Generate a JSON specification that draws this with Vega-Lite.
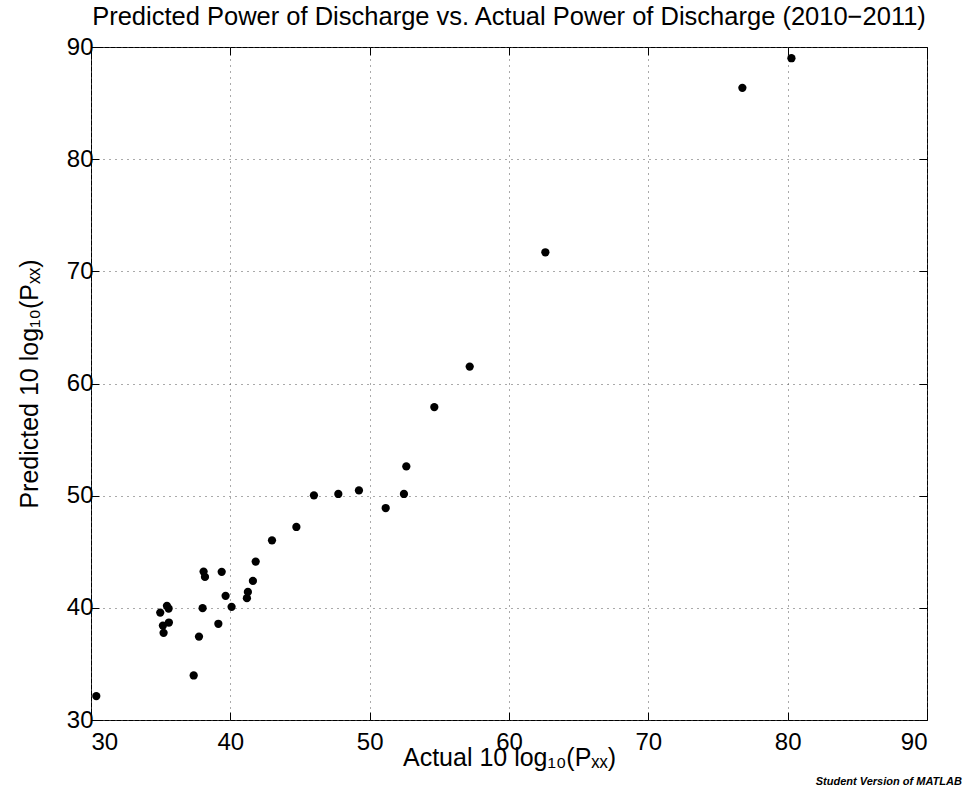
{
  "$schema": "https://vega.github.io/schema/vega-lite/v6.json",
  "width": 836,
  "height": 673,
  "autosize": {"type": "none"},
  "padding": {"left": 91, "top": 47, "right": 43, "bottom": 71},
  "background": "white",
  "config": {
    "view": {"stroke": "black", "strokeWidth": 1},
    "font": "Liberation Sans"
  },
  "title": {
    "text": "Predicted Power of Discharge vs. Actual Power of Discharge (2010−2011)",
    "fontSize": 25.5,
    "fontWeight": "normal",
    "color": "black",
    "font": "Liberation Sans",
    "anchor": "middle",
    "offset": 5
  },
  "layer": [
    {
      "data": {
        "values": [
          {"actual": 30.38, "predicted": 32.13},
          {"actual": 37.37, "predicted": 33.97},
          {"actual": 34.97, "predicted": 39.58},
          {"actual": 35.16, "predicted": 38.42},
          {"actual": 35.21, "predicted": 37.77},
          {"actual": 35.45, "predicted": 40.18},
          {"actual": 35.57, "predicted": 39.94},
          {"actual": 35.59, "predicted": 38.69},
          {"actual": 37.75, "predicted": 37.44},
          {"actual": 38.01, "predicted": 39.97},
          {"actual": 38.08, "predicted": 43.23},
          {"actual": 38.18, "predicted": 42.76},
          {"actual": 39.14, "predicted": 38.58},
          {"actual": 39.38, "predicted": 43.21},
          {"actual": 39.66, "predicted": 41.07},
          {"actual": 40.09, "predicted": 40.09},
          {"actual": 41.19, "predicted": 40.86},
          {"actual": 41.26, "predicted": 41.42},
          {"actual": 41.62, "predicted": 42.40},
          {"actual": 41.82, "predicted": 44.12},
          {"actual": 42.99, "predicted": 46.02},
          {"actual": 44.74, "predicted": 47.21},
          {"actual": 46.00, "predicted": 50.03},
          {"actual": 47.75, "predicted": 50.15},
          {"actual": 49.23, "predicted": 50.47},
          {"actual": 51.15, "predicted": 48.90},
          {"actual": 52.46, "predicted": 50.15},
          {"actual": 52.63, "predicted": 52.61},
          {"actual": 54.64, "predicted": 57.90},
          {"actual": 57.18, "predicted": 61.51},
          {"actual": 62.61, "predicted": 71.70},
          {"actual": 76.75, "predicted": 86.36},
          {"actual": 80.27, "predicted": 89.00}
        ]
      },
      "mark": {"type": "point", "filled": true, "shape": "circle", "size": 68, "color": "black", "opacity": 1},
      "encoding": {
        "x": {
          "field": "actual",
          "type": "quantitative",
          "scale": {"domain": [30, 90], "nice": false, "zero": false},
          "axis": {
            "orient": "bottom",
            "values": [30, 40, 50, 60, 70, 80, 90],
            "title": "Actual 10 log₁₀(Pₓₓ)",
            "titleFontSize": 25,
            "titleFontWeight": "normal",
            "titleColor": "black",
            "titlePadding": -9,
            "labelFontSize": 24,
            "labelColor": "black",
            "labelPadding": 18,
            "tickSize": -8,
            "tickColor": "black",
            "domain": false,
            "grid": true,
            "gridColor": "#555",
            "gridDash": [1, 5],
            "gridWidth": 1
          }
        },
        "y": {
          "field": "predicted",
          "type": "quantitative",
          "scale": {"domain": [30, 90], "nice": false, "zero": false},
          "axis": {
            "orient": "left",
            "values": [30, 40, 50, 60, 70, 80, 90],
            "title": "Predicted 10 log₁₀(Pₓₓ)",
            "titleFontSize": 25,
            "titleFontWeight": "normal",
            "titleColor": "black",
            "titlePadding": 24,
            "labelFontSize": 24,
            "labelColor": "black",
            "labelPadding": 6,
            "tickSize": -8,
            "tickColor": "black",
            "domain": false,
            "grid": true,
            "gridColor": "#555",
            "gridDash": [1, 5],
            "gridWidth": 1
          }
        }
      }
    },
    {
      "data": {"values": [{"label": "Student Version of MATLAB"}]},
      "mark": {"type": "text", "align": "right", "baseline": "alphabetic", "fontStyle": "italic", "fontWeight": "bold", "fontSize": 11, "font": "Liberation Sans", "color": "black"},
      "encoding": {
        "x": {
          "datum": 92.5,
          "type": "quantitative",
          "axis": {"orient": "top", "values": [30, 40, 50, 60, 70, 80, 90], "labels": false, "title": null, "grid": false, "domain": false, "tickSize": -8, "tickColor": "black"}
        },
        "y": {
          "datum": 24.2,
          "type": "quantitative",
          "axis": {"orient": "right", "values": [30, 40, 50, 60, 70, 80, 90], "labels": false, "title": null, "grid": false, "domain": false, "tickSize": -8, "tickColor": "black"}
        },
        "text": {"field": "label"}
      }
    }
  ],
  "resolve": {"axis": {"x": "independent", "y": "independent"}}
}
